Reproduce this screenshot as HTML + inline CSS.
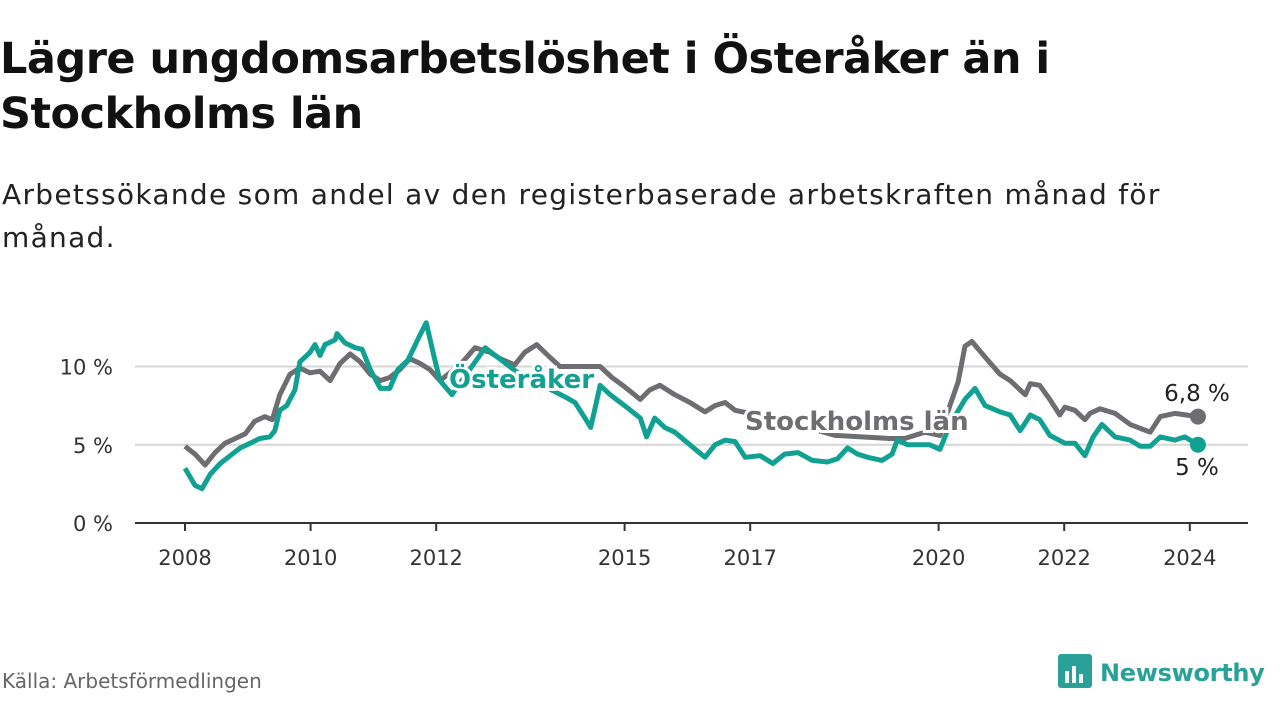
<!DOCTYPE html>
<html><head><meta charset="utf-8"><style>
body{margin:0;width:1280px;height:720px;background:#fff;font-family:"DejaVu Sans","Liberation Sans",sans-serif;overflow:hidden;position:relative}
h1{position:absolute;left:0px;top:32px;margin:0;font-size:43px;line-height:55px;font-weight:bold;color:#111;letter-spacing:-0.5px}
.sub{position:absolute;left:2px;top:173px;font-size:28px;line-height:43px;color:#222;letter-spacing:1.3px}
.src{position:absolute;left:2px;top:669px;font-size:20px;color:#666}
.logo{position:absolute;left:1058px;top:654px;display:flex;align-items:center;font-size:24px;font-weight:bold;color:#2aa198;letter-spacing:-0.3px}
</style></head><body>
<h1>Lägre ungdomsarbetslöshet i Österåker än i<br>Stockholms län</h1>
<div class="sub">Arbetssökande som andel av den registerbaserade arbetskraften månad för<br>månad.</div>
<svg id="chart" width="1280" height="720" style="position:absolute;left:0;top:0"></svg>
<div class="src">Källa: Arbetsförmedlingen</div>
<div class="logo"><svg width="36" height="38" style="margin-right:6px"><rect x="0" y="0" width="34" height="34" rx="3" fill="#2aa198"/><rect x="7" y="17" width="4" height="12" fill="#fff"/><rect x="14" y="12" width="4" height="17" fill="#fff"/><rect x="21" y="20" width="4" height="9" fill="#fff"/></svg>Newsworthy</div>
<script>
const yTicks=[0,5,10];
const yTickLabels=["0 %","5 %","10 %"];
const xTicks=[2008,2010,2012,2015,2017,2020,2022,2024];
const sthDates=[2008.0,2008.16,2008.32,2008.48,2008.64,2008.8,2008.96,2009.11,2009.27,2009.39,2009.51,2009.67,2009.83,2009.99,2010.15,2010.31,2010.47,2010.63,2010.79,2010.95,2011.11,2011.26,2011.42,2011.58,2011.74,2011.9,2012.06,2012.38,2012.62,2012.86,2013.02,2013.25,2013.41,2013.6,2013.78,2013.97,2014.61,2014.8,2015.0,2015.25,2015.4,2015.56,2015.8,2016.04,2016.28,2016.44,2016.6,2016.76,2017.47,2018.35,2019.23,2019.46,2019.78,2020.02,2020.18,2020.31,2020.42,2020.53,2020.74,2020.98,2021.14,2021.3,2021.38,2021.46,2021.61,2021.77,2021.93,2022.01,2022.17,2022.33,2022.41,2022.57,2022.81,2023.05,2023.37,2023.53,2023.76,2024.13];
const sthValues=[4.9,4.4,3.7,4.5,5.1,5.4,5.7,6.5,6.8,6.6,8.2,9.5,9.9,9.6,9.7,9.1,10.2,10.8,10.3,9.5,9.1,9.3,9.8,10.5,10.2,9.8,9.1,10.1,11.2,10.9,10.5,10.1,10.9,11.4,10.7,10.0,10.0,9.3,8.7,7.9,8.5,8.8,8.2,7.7,7.1,7.5,7.7,7.2,6.6,5.6,5.4,5.4,5.8,5.6,7.5,9.0,11.3,11.6,10.6,9.5,9.1,8.5,8.2,8.9,8.8,7.9,6.9,7.4,7.2,6.6,7.0,7.3,7.0,6.3,5.8,6.8,7.0,6.8];
const ostDates=[2008.0,2008.16,2008.27,2008.4,2008.56,2008.72,2008.88,2009.04,2009.19,2009.35,2009.43,2009.51,2009.62,2009.75,2009.83,2009.99,2010.07,2010.15,2010.23,2010.39,2010.42,2010.55,2010.71,2010.82,2010.95,2011.11,2011.26,2011.39,2011.55,2011.74,2011.84,2011.98,2012.06,2012.25,2012.78,2013.3,2014.08,2014.21,2014.37,2014.46,2014.56,2014.61,2014.77,2015.0,2015.25,2015.35,2015.48,2015.64,2015.8,2016.04,2016.28,2016.44,2016.6,2016.76,2016.92,2017.16,2017.36,2017.55,2017.76,2017.99,2018.23,2018.39,2018.55,2018.71,2018.87,2019.1,2019.26,2019.34,2019.51,2019.86,2020.02,2020.18,2020.42,2020.58,2020.74,2020.98,2021.14,2021.3,2021.46,2021.61,2021.77,2022.01,2022.17,2022.33,2022.46,2022.6,2022.81,2023.05,2023.21,2023.37,2023.53,2023.76,2023.92,2024.13];
const ostValues=[3.5,2.4,2.2,3.1,3.8,4.3,4.8,5.1,5.4,5.5,5.9,7.2,7.5,8.5,10.3,10.9,11.4,10.7,11.4,11.7,12.1,11.5,11.2,11.1,9.8,8.6,8.6,9.8,10.4,12.0,12.8,10.4,9.1,8.2,11.2,9.6,8.0,7.7,6.7,6.1,7.9,8.8,8.2,7.5,6.7,5.5,6.7,6.1,5.8,5.0,4.2,5.0,5.3,5.2,4.2,4.3,3.8,4.4,4.5,4.0,3.9,4.1,4.8,4.4,4.2,4.0,4.4,5.3,5.0,5.0,4.7,6.3,7.9,8.6,7.5,7.1,6.9,5.9,6.9,6.6,5.6,5.1,5.1,4.3,5.5,6.3,5.5,5.3,4.9,4.9,5.5,5.3,5.5,5.0];
const NS="http://www.w3.org/2000/svg";
const svg=document.getElementById('chart');
const x=y=>185+(y-2008)*62.8;
const yv=v=>523-v*15.65;
function mk(t,a){const e=document.createElementNS(NS,t);for(const k in a)e.setAttribute(k,a[k]);svg.appendChild(e);return e;}
yTicks.forEach((t,i)=>{
  if(t>0){const g=mk('line',{x1:135,x2:1248,y1:yv(t),y2:yv(t),stroke:'#d6d6d6','stroke-width':2});
  
  }
  const l=mk('text',{x:113,y:yv(t)+8,'text-anchor':'end','font-size':21,fill:'#333'});l.textContent=yTickLabels[i];
  
  
});
const ax=mk('line',{x1:135,x2:1248,y1:523,y2:523,stroke:'#333','stroke-width':2});


xTicks.forEach(t=>{
  const tk=mk('line',{x1:x(t),x2:x(t),y1:523,y2:531,stroke:'#333','stroke-width':2});
  
  
  const l=mk('text',{x:x(t),y:565,'text-anchor':'middle','font-size':21,fill:'#333'});l.textContent=t;
  
  
});
function line(d,v,c,name){
  const p=mk('path',{d:d.map((t,i)=>(i?'L':'M')+x(t).toFixed(1)+' '+yv(v[i]).toFixed(1)).join(''),fill:'none',stroke:c,'stroke-width':5,'stroke-linejoin':'round'});
  
  
  const n=d.length-1;
  const c2=mk('circle',{cx:x(d[n]),cy:yv(v[n]),r:8,fill:c});
  
  
}
line(sthDates,sthValues,'#6e6d72','stockholm-line');
line(ostDates,ostValues,'#11a193','osteraker-line');
function lbl(t,xx,yy,c,name,bold,anchor,fs){
  const e=mk('text',{x:xx,y:yy,'font-size':fs,'font-weight':bold?'bold':'normal',fill:c,stroke:'#fff','stroke-width':bold?6:0,'paint-order':'stroke','text-anchor':anchor||'start'});
  e.textContent=t;
  
  
}
lbl('Österåker',449,388,'#11a193','osteraker-label',true,'start',26);
lbl('Stockholms län',745,430,'#6e6d72','stockholm-label',true,'start',26);
lbl('6,8 %',1197,401,'#222','stockholm-end-value',false,'middle',23);
lbl('5 %',1197,475,'#222','osteraker-end-value',false,'middle',23);
</script>
</body></html>
